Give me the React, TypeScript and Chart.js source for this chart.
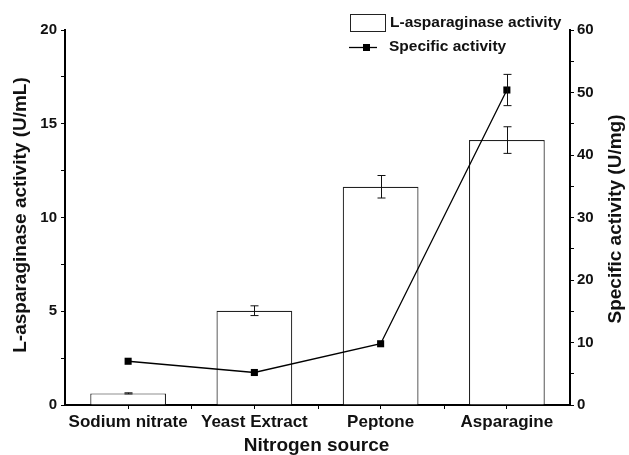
import React, { useEffect, useRef } from "react";
import { Chart, registerables } from "chart.js";

Chart.register(...registerables);

const categories = ["Sodium nitrate", "Yeast Extract", "Peptone", "Asparagine"];
const activity = [0.62, 5.03, 11.64, 14.13];
const activityErr = [0.03, 0.26, 0.6, 0.71];
const specific = [7.0, 5.2, 9.8, 50.4];
const specificErr = [0, 0, 0, 2.5];
const leftTicks = [0, 5, 10, 15, 20];
const rightTicks = [0, 10, 20, 30, 40, 50, 60];
const xTitle = "Nitrogen source";
const yTitle = "L-asparaginase activity (U/mL)";
const y1Title = "Specific activity (U/mg)";
const legendLabels = ["L-asparaginase activity", "Specific activity"];

const FONT = "'Liberation Sans', Arial, sans-serif";

const errorBarPlugin = {
  id: "errorBars",
  afterDatasetsDraw(chart: any) {
    const ctx = chart.ctx;
    const x = chart.scales.x;
    const y = chart.scales.y;
    const y1 = chart.scales.y1;
    ctx.save();
    ctx.strokeStyle = "#111";
    ctx.lineWidth = 1;
    const draw = (vals: number[], errs: number[], sc: any) => {
      vals.forEach((v, i) => {
        const e = errs[i];
        if (!e) return;
        const px = Math.round(x.getPixelForValue(i)) + 0.5;
        const top = sc.getPixelForValue(v + e);
        const bot = sc.getPixelForValue(v - e);
        ctx.beginPath();
        ctx.moveTo(px, top);
        ctx.lineTo(px, bot);
        ctx.moveTo(px - 4, top);
        ctx.lineTo(px + 4, top);
        ctx.moveTo(px - 4, bot);
        ctx.lineTo(px + 4, bot);
        ctx.stroke();
      });
    };
    draw(activity, activityErr, y);
    draw(specific, specificErr, y1);
    ctx.strokeStyle = "#000";
    for (let i = 0; i < categories.length - 1; i++) {
      const px = Math.round(x.getPixelForValue(i + 0.5)) + 0.5;
      ctx.beginPath();
      ctx.moveTo(px, x.top);
      ctx.lineTo(px, x.top + 4);
      ctx.stroke();
    }
    ctx.restore();
  },
};

const textPlugin = {
  id: "texts",
  afterDraw(chart: any) {
    const ctx = chart.ctx;
    ctx.save();
    // legend
    ctx.fillStyle = "#fff";
    ctx.strokeStyle = "#222";
    ctx.lineWidth = 1;
    ctx.fillRect(350, 14, 35, 17);
    ctx.strokeRect(350.5, 14.5, 35, 17);
    ctx.fillStyle = "#111";
    ctx.font = `bold 15.5px ${FONT}`;
    ctx.textBaseline = "middle";
    ctx.textAlign = "left";
    ctx.fillText(legendLabels[0], 390, 23);
    ctx.strokeStyle = "#000";
    ctx.lineWidth = 1.3;
    ctx.beginPath();
    ctx.moveTo(349, 47.5);
    ctx.lineTo(377, 47.5);
    ctx.stroke();
    ctx.fillStyle = "#000";
    ctx.fillRect(363, 44, 7, 7);
    ctx.fillStyle = "#111";
    ctx.fillText(legendLabels[1], 389, 47);
    // axis titles
    ctx.font = `bold 19px ${FONT}`;
    ctx.textAlign = "center";
    ctx.textBaseline = "middle";
    ctx.fillText(xTitle, 316.5, 446);
    ctx.save();
    ctx.translate(21, 215);
    ctx.rotate(-Math.PI / 2);
    ctx.fillText(yTitle, 0, 0);
    ctx.restore();
    ctx.save();
    ctx.translate(616, 219);
    ctx.rotate(-Math.PI / 2);
    ctx.fillText(y1Title, 0, 0);
    ctx.restore();
    ctx.restore();
  },
};

export default function App() {
  const ref = useRef<HTMLCanvasElement>(null);
  useEffect(() => {
    if (!ref.current) return;
    const chart = new Chart(ref.current, {
      type: "bar",
      data: {
        labels: categories,
        datasets: [
          {
            type: "line",
            label: legendLabels[1],
            data: specific,
            yAxisID: "y1",
            borderColor: "#000",
            backgroundColor: "#000",
            borderWidth: 1.3,
            pointStyle: "rect",
            pointRadius: 5,
            pointBorderWidth: 0,
            pointBackgroundColor: "#000",
            order: 1,
          } as any,
          {
            type: "bar",
            label: legendLabels[0],
            data: activity,
            yAxisID: "y",
            backgroundColor: "#fff",
            borderColor: "#222",
            borderWidth: 1.2,
            categoryPercentage: 1,
            barPercentage: 0.6,
            order: 2,
          },
        ],
      },
      options: {
        responsive: false,
        animation: false,
        layout: { padding: { top: 30, left: 0, right: 0, bottom: 0 } },
        plugins: { legend: { display: false }, tooltip: { enabled: false } },
        scales: {
          x: {
            offset: true,
            grid: { drawOnChartArea: false, drawTicks: true, tickLength: 4, color: "#000", offset: false },
            border: { display: true, color: "#000", width: 2 },
            ticks: { color: "#111", font: { family: FONT, size: 17, weight: "bold" }, padding: 3, maxRotation: 0, autoSkip: false },
            afterFit(scale: any) {
              scale.height = 50;
            },
          },
          y: {
            position: "left",
            min: 0,
            max: 20,
            afterBuildTicks(scale: any) {
              const t: any[] = [];
              for (let v = 0; v <= 20; v += 2.5) t.push({ value: v });
              scale.ticks = t;
            },
            ticks: {
              color: "#111",
              font: { family: FONT, size: 15, weight: "bold" },
              padding: 4,
              callback: (v: any) => (leftTicks.includes(Number(v)) ? String(v) : ""),
            },
            grid: { drawOnChartArea: false, drawTicks: true, tickLength: 4, color: "#000" },
            border: { display: true, color: "#000", width: 2 },
            afterFit(scale: any) {
              scale.width = 65;
            },
          },
          y1: {
            position: "right",
            min: 0,
            max: 60,
            afterBuildTicks(scale: any) {
              const t: any[] = [];
              for (let v = 0; v <= 60; v += 5) t.push({ value: v });
              scale.ticks = t;
            },
            ticks: {
              color: "#111",
              font: { family: FONT, size: 15, weight: "bold" },
              padding: 3,
              callback: (v: any) => (rightTicks.includes(Number(v)) ? String(v) : ""),
            },
            grid: { drawOnChartArea: false, drawTicks: true, tickLength: 4, color: "#000" },
            border: { display: true, color: "#000", width: 2 },
            afterFit(scale: any) {
              scale.width = 59;
            },
          },
        },
      },
      plugins: [errorBarPlugin, textPlugin],
    });
    return () => chart.destroy();
  }, []);
  return (
    <div style={{ position: "absolute", left: 0, top: 0, width: 629, height: 455, background: "#fff" }}>
      <canvas ref={ref} width={629} height={455} style={{ display: "block" }} />
    </div>
  );
}
